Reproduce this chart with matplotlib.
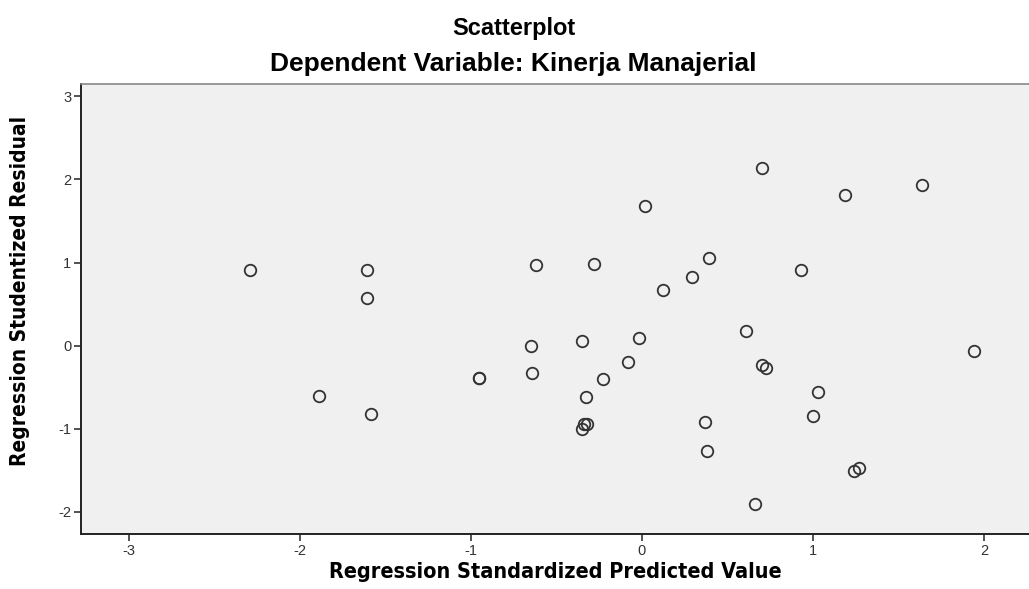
import matplotlib
matplotlib.use('Agg')
import matplotlib.pyplot as plt

plt.rcParams['axes.unicode_minus'] = False

# Residual plot values
pred = [-2.29, -1.61, -1.61, -1.89, -1.585,
        -0.95, -0.95, -0.65, -0.645, -0.62, -0.35, -0.33, -0.34, -0.32, -0.35,
        -0.28, -0.23, -0.08, -0.02, 0.02, 0.125, 0.29, 0.37, 0.38, 0.39,
        0.61, 0.66, 0.70, 0.70, 0.725, 0.93, 1.00, 1.03, 1.19, 1.24, 1.27,
        1.64, 1.94]
resid = [0.915, 0.905, 0.57, -0.61, -0.83,
         -0.39, -0.39, 0.00, -0.33, 0.97, 0.06, -0.62, -0.94, -0.94, -1.01,
         0.98, -0.40, -0.20, 0.09, 1.68, 0.67, 0.82, -0.92, -1.27, 1.05,
         0.18, -1.91, 2.14, -0.24, -0.27, 0.91, -0.85, -0.56, 1.81, -1.51, -1.47,
         1.93, -0.06]
xticks = [-3, -2, -1, 0, 1, 2]
yticks = [-2, -1, 0, 1, 2, 3]

fig = plt.figure(figsize=(10.29, 5.89), dpi=100)
ax = fig.add_axes([81/1029, 1-534/589, 1-81/1029, (534-84)/589])
ax.set_facecolor('#f0f0f0')

ax.plot(pred, resid, linestyle='none', marker='o', markersize=8.3,
        markerfacecolor='none', markeredgecolor='#333333', markeredgewidth=1.3)

ax.set_xlim(-3.28, 2.263)
ax.set_ylim(-2.27, 3.15)
ax.set_xticks(xticks)
ax.set_yticks(yticks)
ax.tick_params(direction='out', length=5, width=1.2, color='#333333',
               labelsize=10.5, labelcolor='#333333', pad=2)
for lab in ax.get_xticklabels() + ax.get_yticklabels():
    lab.set_family('Liberation Sans')

for side in ['left', 'bottom']:
    ax.spines[side].set_color('#222222')
    ax.spines[side].set_linewidth(1.4)
ax.spines['right'].set_visible(False)
ax.spines['top'].set_color('#888888')
ax.spines['top'].set_linewidth(1.2)

ax.set_xlabel('Regression Standardized Predicted Value', family='DejaVu Sans',
              stretch='condensed', fontsize=15.5, fontweight='bold', labelpad=3)
ax.set_ylabel('Regression Studentized Residual', family='DejaVu Sans',
              stretch='condensed', fontsize=15, fontweight='bold')
ax.yaxis.set_label_coords(-0.054, 0.54)

fig.text(514/1029, 1-29/589, 'Scatterplot', ha='center', va='center',
         family='Liberation Sans', fontsize=17, fontweight='bold')
fig.text(513/1029, 1-64/589, 'Dependent Variable: Kinerja Manajerial',
         ha='center', va='center', family='Liberation Sans', fontsize=19,
         fontweight='bold')

fig.savefig('out.png', dpi=100)
